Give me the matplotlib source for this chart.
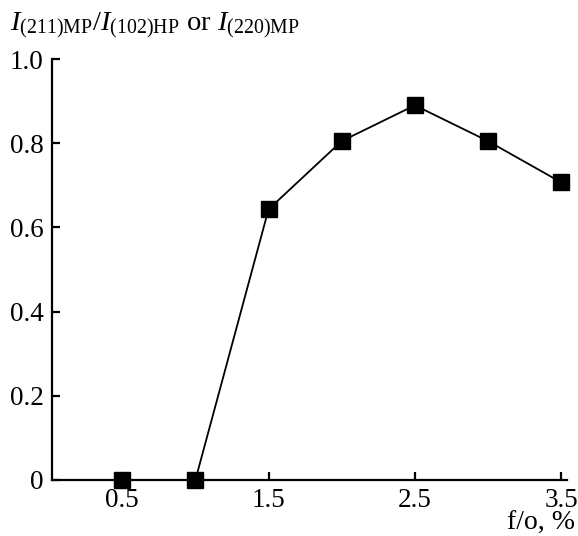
import matplotlib
matplotlib.use("Agg")
import matplotlib.pyplot as plt

x_vals = [0.5, 1.0, 1.5, 2.0, 2.5, 3.0, 3.5]
y_vals = [0.0, 0.0, 0.643, 0.805, 0.89, 0.805, 0.707]
x_ticks = [0.5, 1.5, 2.5, 3.5]
x_tick_labels = ["0.5", "1.5", "2.5", "3.5"]
y_ticks = [0, 0.2, 0.4, 0.6, 0.8, 1.0]
y_tick_labels = ["0", "0.2", "0.4", "0.6", "0.8", "1.0"]

plt.rcParams['font.family'] = ['Liberation Serif', 'DejaVu Serif']
plt.rcParams['mathtext.fontset'] = 'custom'
plt.rcParams['mathtext.rm'] = 'Liberation Serif'
plt.rcParams['mathtext.it'] = 'Liberation Serif:italic'

fig = plt.figure(figsize=(5.78, 5.36), dpi=100)
ax = fig.add_axes([0.090, 0.1045, 0.891, 0.7854])

ax.plot(x_vals, y_vals, color='black', linewidth=1.3, marker='s',
        markersize=11, markerfacecolor='black', markeredgecolor='black',
        clip_on=False, zorder=3)

ax.set_xlim(0.02, 3.54)
ax.set_ylim(0, 1.0)
ax.set_xticks(x_ticks)
ax.set_xticklabels(x_tick_labels)
ax.set_yticks(y_ticks)
ax.set_yticklabels(y_tick_labels)

for s in ['top', 'right']:
    ax.spines[s].set_visible(False)
for s in ['left', 'bottom']:
    ax.spines[s].set_linewidth(1.6)

ax.tick_params(direction='in', length=6, width=1.6, labelsize=19.5, pad=6)
ax.tick_params(axis='y', pad=6)

fig.text(10/578, 1-31/536,
         r'$\mathit{I}_{(211)\mathrm{MP}}/\mathit{I}_{(102)\mathrm{HP}}$ or $\mathit{I}_{(220)\mathrm{MP}}$',
         fontsize=20.5, ha='left', va='baseline')
fig.text(575/578, 1-530/536, 'f/o, %', fontsize=20, ha='right', va='baseline')

fig.savefig('out.png', dpi=100)
